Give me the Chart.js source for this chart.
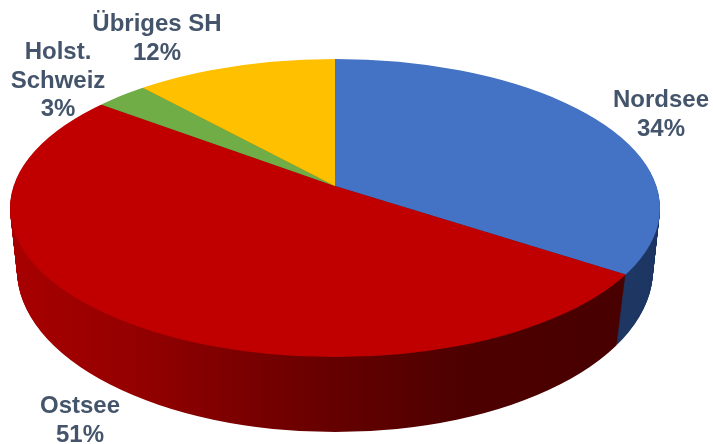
<!DOCTYPE html>
<html>
<head>
<meta charset="utf-8">
<style>
  html, body { margin: 0; padding: 0; background: #fff; }
  canvas { display: block; }
</style>
<script src="https://cdn.jsdelivr.net/npm/chart.js@4/dist/chart.umd.min.js"></script>
</head>
<body>
<canvas id="chart" width="713" height="444"></canvas>
<script>
const categories = ['Nordsee', 'Ostsee', 'Holst. Schweiz', 'Übriges SH'];
const values = [34, 51, 3, 12];
const topColors = ['#4472C4', '#C00000', '#70AD47', '#FFC000'];
const wallColors = ['#1F3864', null, '#43682B', '#997300'];

// label lines and where they sit, one entry per category
const labelLines = [['Nordsee', '34%'], ['Ostsee', '51%'], ['Holst.', 'Schweiz', '3%'], ['Übriges SH', '12%']];
const labelX = [661, 80, 58, 157];
const labelY = [107, 413, 59, 31];

// fake perspective: top face and bottom face of the disc
const topFace = { x: 335, y: 208, rx: 325, ry: 149, apexY: 186 };
const bottomFace = { x: 335, y: 270, rx: 318, ry: 162, apexY: 259 };
const squash = 0.48;   // vertical flattening of the slice angles
const oversize = 2.2;  // slices are drawn too big, the ellipse clip cuts them

function drawFace(chart, t, colors) {
    const ctx = chart.ctx;
    const arcs = chart.getDatasetMeta(0).data;
    const lerp = (a, b) => a + (b - a) * t;
    const s = oversize * lerp(topFace.rx, bottomFace.rx) / topFace.rx;
    ctx.save();
    ctx.beginPath();
    ctx.ellipse(lerp(topFace.x, bottomFace.x), lerp(topFace.y, bottomFace.y),
        lerp(topFace.rx, bottomFace.rx), lerp(topFace.ry, bottomFace.ry), 0, 0, Math.PI * 2);
    ctx.clip();
    ctx.translate(topFace.x, lerp(topFace.apexY, bottomFace.apexY));
    ctx.scale(s, s * squash);
    ctx.translate(-arcs[0].x, -arcs[0].y);
    arcs.forEach((arc, i) => {
        const saved = arc.options;
        arc.options = Object.create(saved, { backgroundColor: { value: colors(i, s) } });
        arc.draw(ctx);
        arc.options = saved;
    });
    ctx.restore();
}

const disc3d = {
    id: 'disc3d',
    beforeDatasetDraw(chart) {
        const ctx = chart.ctx;
        const cx = chart.getDatasetMeta(0).data[0].x;
        // wall shading for Ostsee, stops
        const wall = (i, s) => {
            if (i !== 1) return wallColors[i];
            const toUser = px => cx + (px - topFace.x) / s;
            const g = ctx.createLinearGradient(toUser(10), 0, toUser(625), 0);
            g.addColorStop(0, '#A80000');
            g.addColorStop(0.2, '#950000');
            g.addColorStop(0.37, '#7C0000');
            g.addColorStop(0.52, '#660000');
            g.addColorStop(0.73, '#4E0000');
            g.addColorStop(1, '#480000');
            return g;
        };
        for (let step = 75; step > 0; step--) {
            drawFace(chart, step / 75, wall);
        }
        drawFace(chart, 0, i => topColors[i]);
        return false;
    },
    afterDraw(chart) {
        const ctx = chart.ctx;
        ctx.save();
        ctx.font = 'bold 24px "Liberation Sans"';
        ctx.fillStyle = '#44546A';
        ctx.textAlign = 'center';
        ctx.textBaseline = 'alphabetic';
        labelLines.forEach((lines, i) => {
            lines.forEach((line, n) => ctx.fillText(line, labelX[i], labelY[i] + n * 28.5));
        });
        ctx.restore();
    }
};

document.addEventListener('DOMContentLoaded', function() {
    const ctx = document.getElementById('chart').getContext('2d');
    new Chart(ctx, {
        type: 'pie',
        data: {
            labels: categories,
            datasets: [{
                data: values,
                backgroundColor: topColors,
                borderWidth: 0
            }]
        },
        options: {
            responsive: false,
            animation: false,
            events: [],
            plugins: {
                legend: { display: false },
                tooltip: { enabled: false }
            }
        },
        plugins: [disc3d]
    });
});
</script>
</body>
</html>
